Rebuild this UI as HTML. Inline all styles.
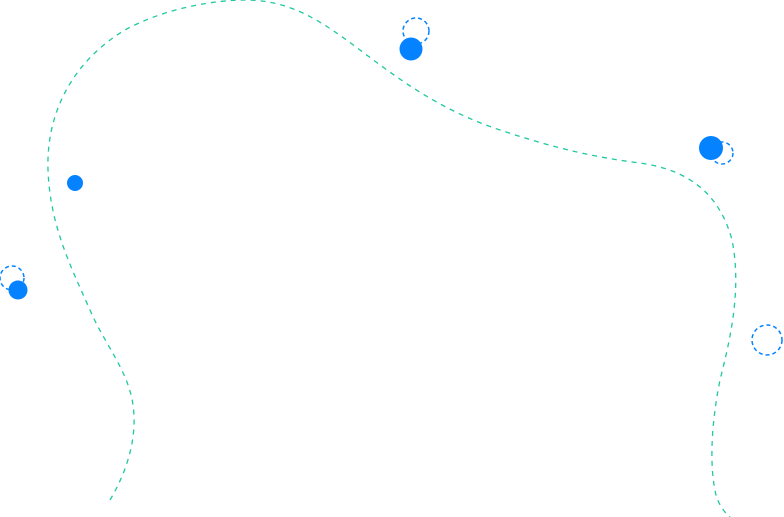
<!DOCTYPE html>
<html><head><style>html,body{margin:0;padding:0;background:#fff;}svg{display:block}</style></head>
<body>
<svg width="784" height="517" viewBox="0 0 784 517" xmlns="http://www.w3.org/2000/svg">
<path d="M110,500 C125,475 138,440 133,405 C128,370 105,345 90,310 C70,265 50,225 48,170 C46,110 75,60 125,30 C165,8 215,0 245,0 C290,0 320,20 360,50 C400,80 440,110 500,130 C560,150 600,158 640,163 C690,170 720,195 732,240 C742,290 730,340 720,380 C710,430 710,470 716,495 C719,505 724,512 730,517" fill="none" stroke="#1fc8a0" stroke-width="1.3" stroke-dasharray="5,5"/>
<g fill="#0582ff">
<circle cx="411" cy="49" r="11.5"/>
<circle cx="711" cy="148" r="12"/>
<circle cx="75" cy="183" r="8"/>
<circle cx="18" cy="290" r="9.5"/>
</g>
<g fill="none" stroke="#0582ff" stroke-width="1.5" stroke-dasharray="4,3">
<circle cx="416" cy="31" r="13"/>
<circle cx="722" cy="153" r="11"/>
<circle cx="12" cy="278" r="12"/>
<circle cx="767" cy="340" r="15"/>
</g>
</svg>
</body></html>
